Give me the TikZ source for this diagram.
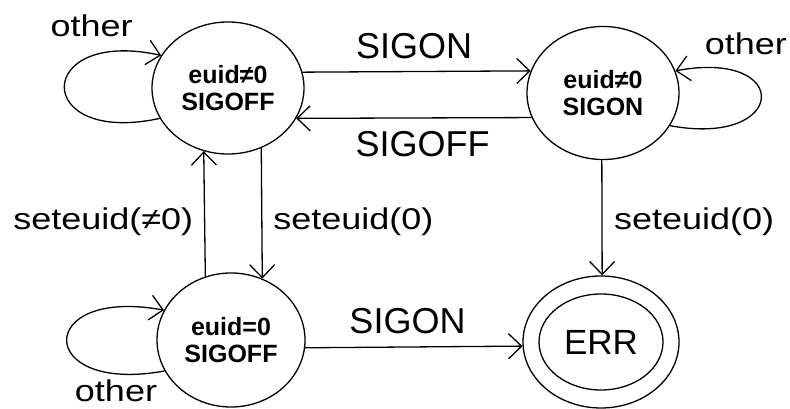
\documentclass[tikz,border=0pt]{standalone}
\usepackage{fontspec}
\setmainfont{Liberation Sans}
\newfontfamily\lowfont[FakeStretch=1.2]{Liberation Sans}
\usetikzlibrary{arrows.meta,shapes.geometric}

\begin{document}
\begin{tikzpicture}[x=1pt,y=1pt,
  line width=1.3pt,
  state/.style={draw, ellipse, inner sep=0pt, align=center,
    font=\fontsize{25}{27.3}\selectfont\bfseries},
  arr/.style={-{Straight Barb[length=13pt,width=25pt]}},
  capslbl/.style={font=\fontsize{36}{40}\selectfont, anchor=base, inner sep=0pt},
  lowlbl/.style={font=\lowfont\fontsize{30}{34}\selectfont, anchor=base, inner sep=0pt}]
\useasboundingbox (0,0) rectangle (790,409);

% states
\node[state, minimum width=152pt, minimum height=132pt] (A) at (228,321) {euid≠0\\SIGOFF};
\node[state, minimum width=152pt, minimum height=133pt] (B) at (603,316) {euid≠0\\SIGON};
\node[state, minimum width=148pt, minimum height=134pt] (C) at (231,69) {euid=0\\SIGOFF};
\node[draw, ellipse, inner sep=0pt, minimum width=156pt, minimum height=132pt,
  font=\fontsize{35}{40}\selectfont] (D) at (601,67) {ERR};
\draw (D.center) ellipse [x radius=62pt, y radius=48pt];

% transitions between states
\draw[arr] (A.12.24) -- (B.163.75);
\draw[arr] (B.199.56) -- (A.336.1);
\draw[arr] (A.299.94) -- (C.63);
\draw[arr] (C.112.51) -- (A.249.92);
\draw[arr] (B.269.1) -- (D.89.1);
\draw[arr] (C.354.57) -- (D.183.68);

% self loops
\draw[arr] (A.204) .. controls +(-128,-28) and +(-128,28) .. (A.154);
\draw[arr] (B.334) .. controls +(118,-22) and +(118,22) .. (B.17);
\draw[arr] (C.205) .. controls +(-130,-24) and +(-130,24) .. (C.156);

% labels
\node[lowlbl] (oA) at (91.7,372.3) {other};
\node[lowlbl] (oB) at (745.8,354.5) {other};
\node[lowlbl] (oC) at (116,7) {other};
\node[capslbl] (sigonTop) at (414.2,350.7) {SIGON};
\node[capslbl] (sigoff) at (422.5,252.3) {SIGOFF};
\node[lowlbl] (setNZ) at (103.3,179) {seteuid(≠0)};
\node[lowlbl] (setZa) at (353.3,179) {seteuid(0)};
\node[lowlbl] (setZb) at (694.2,179) {seteuid(0)};
\node[capslbl] (sigonBot) at (407.5,75.7) {SIGON};
\end{tikzpicture}
\end{document}
